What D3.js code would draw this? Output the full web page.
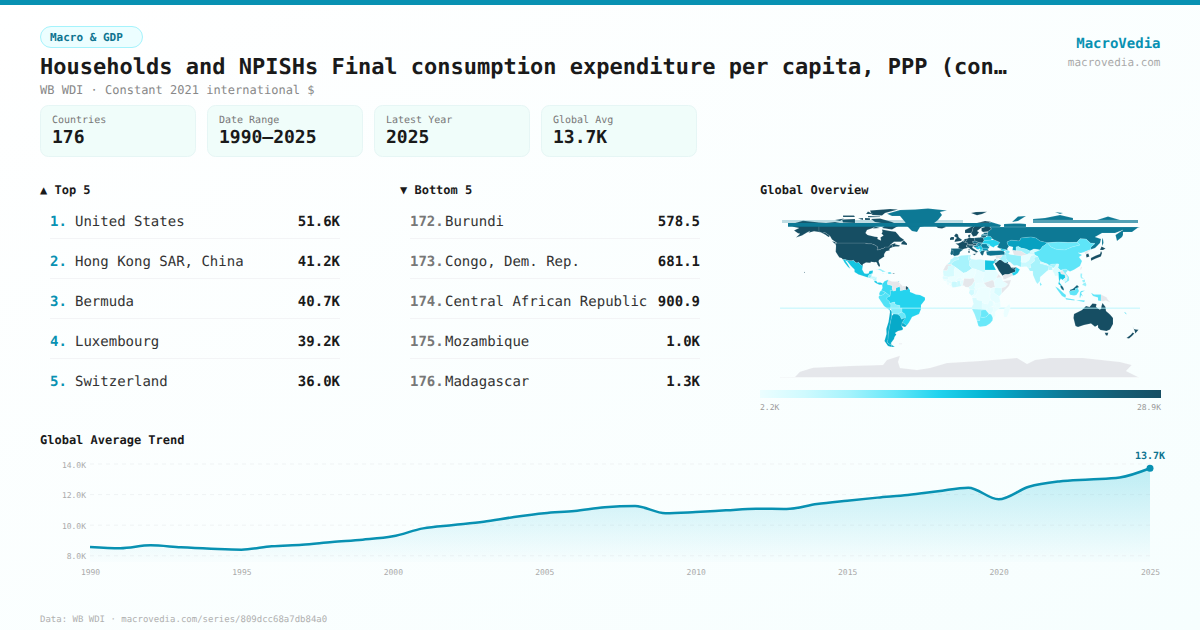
<!DOCTYPE html>
<html>
<head>
<meta charset="utf-8">
<script src="https://cdn.jsdelivr.net/npm/d3@7"></script>
<style>
  html, body { margin: 0; padding: 0; background: #fff; overflow: hidden; }
  text { font-family: "DejaVu Sans Mono", monospace; text-rendering: geometricPrecision; }
</style>
</head>
<body>
<div id="my_dataviz"></div>
<script>
// header + stat cards
var titleText = "Households and NPISHs Final consumption expenditure per capita, PPP (con…";
var subtitleText = "WB WDI · Constant 2021 international $";
var statLabels = ["Countries", "Date Range", "Latest Year", "Global Avg"];
var statValues = ["176", "1990–2025", "2025", "13.7K"];

// rankings
var topRanks = ["1.", "2.", "3.", "4.", "5."];
var topNames = ["United States", "Hong Kong SAR, China", "Bermuda", "Luxembourg", "Switzerland"];
var topValues = ["51.6K", "41.2K", "40.7K", "39.2K", "36.0K"];
var bottomRanks = ["172.", "173.", "174.", "175.", "176."];
var bottomNames = ["Burundi", "Congo, Dem. Rep.", "Central African Republic", "Mozambique", "Madagascar"];
var bottomValues = ["578.5", "681.1", "900.9", "1.0K", "1.3K"];

// trend series
var years = d3.range(1990, 2026);
var trendValues = [8540, 8460, 8650, 8520, 8430, 8370, 8590, 8690, 8870, 9020, 9240, 9760,
  9980, 10200, 10500, 10750, 10900, 11140, 11220, 10750, 10830, 10940, 11050, 11030, 11350,
  11570, 11770, 11940, 12180, 12420, 11660, 12480, 12830, 12960, 13090, 13690];
var trendTicks = [8000, 10000, 12000, 14000];
var yearTicks = [1990, 1995, 2000, 2005, 2010, 2015, 2020, 2025];

// map legend
var legendMin = 2200, legendMax = 28900;
var legendLabels = ["2.2K", "28.9K"];
var legendColors = ["#ecfeff", "#cffafe", "#a5f3fc", "#67e8f9", "#22d3ee", "#06b6d4", "#0891b2", "#0e7490", "#155e75", "#164e63"];

// map values, null = no data
var mapCountries = [
  "USA", "Canada", "Greenland", "Iceland", "Mexico", "Guatemala", "Belize", "Honduras", "Salvador", "Nicaragua",
  "CostaRica", "Panama", "Cuba", "Haiti", "Dominican", "Jamaica", "PuertoRico", "Trinidad", "Colombia", "Venezuela",
  "Guyana", "Suriname", "Ecuador", "Peru", "Brazil", "Bolivia", "Paraguay", "Chile", "Argentina", "Uruguay",
  "Falklands", "UK", "Ireland", "France", "Spain", "Portugal", "Belgium", "Netherlands", "Germany", "Switzerland",
  "Austria", "Italy", "Denmark", "Norway", "Sweden", "Finland", "Poland", "Czechia", "Slovakia", "Hungary",
  "Croatia", "Bosnia", "Serbia", "Romania", "Bulgaria", "Greece", "Albania", "Ukraine", "Moldova", "Belarus",
  "Lithuania", "Latvia", "Estonia", "Russia", "Kazakhstan", "Uzbekistan", "Turkmenistan", "Kyrgyzstan", "Tajikistan", "Mongolia",
  "China", "NorthKorea", "SouthKorea", "Japan", "Taiwan", "India", "Pakistan", "Afghanistan", "Nepal", "Bangladesh",
  "SriLanka", "Iran", "Iraq", "Saudi", "Yemen", "Oman", "UAE", "Kuwait", "Jordan", "Israel",
  "Syria", "Turkey", "Georgia", "Azerbaijan", "Myanmar", "Thailand", "Laos", "Cambodia", "Vietnam", "Malaysia",
  "Indonesia", "PNG", "Philippines", "NewCaledonia", "Australia", "NewZealand", "Fiji", "Morocco", "WesternSahara", "Algeria",
  "Tunisia", "Libya", "Egypt", "Sudan", "Mauritania", "Mali", "Niger", "Chad", "Senegal", "GuineaBissau",
  "Guinea", "SierraLeone", "Liberia", "Ivory", "Burkina", "Ghana", "Benin", "Nigeria", "Cameroon", "CAR",
  "SouthSudan", "Eritrea", "Ethiopia", "Somalia", "Kenya", "Uganda", "Tanzania", "Rwanda", "Gabon", "Congo",
  "DRC", "Angola", "Zambia", "Malawi", "Mozambique", "Zimbabwe", "Namibia", "Botswana", "SouthAfrica", "Madagascar",
  "Antarctica"
];
var mapValues = [
  51600, 31000, 22500, 30000, 15500, 9500, 8000, 6000, 9000, 6500,
  15000, 15000, 9000, 3000, 14000, 8000, 29000, 13000, 13000, null,
  null, null, 12500, 12000, 14000, 9500, 11000, 18000, 18000, 18000,
  null, 32000, 29000, 33000, 25000, 25000, 32000, 33000, 34000, 36000,
  34000, 28000, 31000, 35000, 32000, 30000, 27000, 24000, 22000, 21000,
  21000, 15000, 15000, 21500, 19500, 25000, 13000, 14000, 11000, 15500,
  26000, 23000, 24000, 22500, 18700, 8500, null, 4500, 5000, 11000,
  11500, null, 28900, 29000, null, 8000, 5500, 2800, 4200, 7000,
  10000, 9000, 8000, 28900, null, 14000, 29000, 24000, 8500, 27000,
  null, 23000, 14000, 9500, 4000, 15000, null, 5000, 9500, 25000,
  11500, null, 8800, 14000, 35000, 29000, 8500, 6800, null, 8000,
  7000, 5500, 15500, 3000, 4500, 2400, 2300, 2600, 3500, 2400,
  2600, 2400, 2300, 5500, 2700, 5300, 3000, null, 3800, 2300,
  null, null, 2700, null, 4500, 2600, 2800, 2500, 5000, 2800,
  2250, 4200, 3000, 2300, 2300, 3100, 9000, 11000, 11000, 2300,
  null
];

// rough outlines, lon lat pairs, rings split with |
var mapOutlines = {
  USA: "-124.7 48.4,-123 49,-95.2 49,-92 48.3,-88.4 48.3,-84.9 46.9,-83.5 46,-82.5 45.3,-82.1 43.6,-83 42,-79 42.8,-79 43.3,-76.8 43.6,-75 45,-71.5 45,-70.4 46,-69.2 47.4,-68 47.2,-67 44.9,-70 43.7,-70.8 42.6,-70 41.7,-74 40.7,-75.5 38.5,-76 37,-75.7 35.5,-78 33.9,-81 32,-81.4 30.5,-80 26.8,-80.4 25.2,-81.2 25.5,-82.7 27.8,-82.9 29.1,-84 30,-85.5 29.7,-89.2 30.2,-89.4 29.2,-91 29.2,-94 29.6,-97.2 27.7,-97.2 25.9,-99.5 27.5,-101.4 29.8,-103 29,-104.5 29.6,-106.5 31.8,-108.2 31.3,-111 31.3,-114.8 32.5,-117.1 32.5,-118.5 34,-120.6 34.5,-122 36.6,-124.3 40.3,-124 46.2|-141 69.6,-141 60.3,-137.5 58.9,-135 59.5,-130 55.9,-131.5 55,-135 57.5,-139.5 59.8,-146 60.8,-151.5 59.3,-150 61,-153 59.5,-158 56.6,-164 54.6,-160 58.2,-162 58.7,-166 61.6,-161 64,-168 65.6,-162 67,-166.5 68.4,-157 71.2,-150 70.4|-156 20.2,-154.9 19.6,-155.7 18.9",
  Canada: "-141 69.6,-141 60.3,-137.5 58.9,-135 59.5,-130 55.9,-128 52.5,-123 49,-95.2 49,-92 48.3,-88.4 48.3,-84.9 46.9,-83.5 46,-82.5 45.3,-82.1 43.6,-83 42,-79 42.8,-79 43.3,-76.8 43.6,-75 45,-71.5 45,-70.4 46,-69.2 47.4,-68 47.2,-67 44.9,-64.5 45.5,-61 45.5,-60 46.5,-65 47.8,-64.5 49,-70 47,-66 50.2,-59 50.2,-55.7 52,-60 55,-62 57.5,-64.5 60.3,-70 61,-78 62.4,-77.5 60,-78.5 58.5,-76.5 56.5,-79.5 54.5,-79 51.5,-82.5 52.9,-82.3 55.1,-85 55.3,-92.5 57,-94.5 59,-93 62,-87 64,-81 69,-90 69,-96 67.5,-108 68,-115 68,-125 70,-134 69|-125.5 48.6,-123.5 48.4,-125 50,-128 50.8|-59 47.7,-53 47,-53 48.5,-56 51.5,-58 50|-61 66.5,-68 62.5,-78 64,-73 68,-85 70,-89 73,-80 73.5,-68 70|-105 69,-117 69.5,-118 72.5,-105 73|-62 82.5,-70 83,-90 81.5,-88 77,-78 76.5,-75 79|-116 73.5,-125 72,-120 71|-80 75,-92 74.7,-92 76,-80 75.5|-92 80.5,-87 78,-94 78|-105 75,-117 75,-117 76.5,-106 76.5|-80 64,-87 63.5,-85 65.5|-97 72,-102 73.5,-97 74|-90 72,-95 72,-95 74,-90 73.8",
  Greenland: "-73 78.2,-60 82,-45 82.5,-32 83.6,-13 81.5,-20 80,-18 77,-22 72,-27 68,-40 65,-43 60,-48 61,-53 66,-55 70,-60 76,-68 76",
  Iceland: "-24 65.5,-22 64,-18 63.5,-14 65,-16 66.5,-22 66.4",
  Mexico: "-117.1 32.5,-114.8 32.5,-111 31.3,-108.2 31.3,-106.5 31.8,-104.5 29.6,-103 29,-101.4 29.8,-99.5 27.5,-97.2 25.9,-97.8 22.5,-95.8 18.8,-94 18.2,-91.5 18.5,-90.5 21,-87 21.5,-87.5 18.5,-89 17.9,-91 17.2,-92.2 14.5,-96 15.8,-101.5 17.5,-105.5 20,-105.5 22.5,-109 26,-112.8 30.8,-114.7 31.5,-112 27.5,-109.7 23.2,-112 25,-115.5 29.5",
  Guatemala: "-92.2 14.5,-91 17.2,-89.2 17.9,-88.3 15.8,-89.2 14.4,-90.5 13.9",
  Belize: "-89.2 17.9,-88.3 18.4,-88.2 16.3,-89.2 15.9",
  Honduras: "-89.2 14.4,-88.3 15.8,-83.2 15,-84.8 14,-87.3 13",
  Salvador: "-90 13.7,-88 13.2,-89.2 14.4",
  Nicaragua: "-87.5 13,-84.8 14,-83.2 15,-83.7 11,-85.7 11.1",
  CostaRica: "-85.7 11.1,-83.7 11,-82.6 9.5,-83 8.2,-85.7 10",
  Panama: "-83 8.2,-82.6 9.5,-79.5 9.6,-77.3 8.6,-77.9 7.2,-80.5 7.3",
  Cuba: "-85 21.9,-80 23.2,-74.2 20.2,-77.7 19.9,-78.5 21,-82 22.5",
  Haiti: "-74.5 18.4,-71.7 18.2,-71.7 19.8,-73 20",
  Dominican: "-71.7 18.2,-68.5 18.5,-69 19.5,-71.7 19.8",
  Jamaica: "-78.3 18.3,-76.3 18,-76.5 18.5",
  PuertoRico: "-67.2 18,-65.6 18,-65.6 18.5,-67.2 18.5",
  Trinidad: "-61.7 10,-60.9 10,-60.9 10.8,-61.7 10.8",
  Colombia: "-77.3 8.6,-75.5 10.7,-72 12.2,-71.3 11.8,-72.5 9.5,-72.4 7.4,-70 7,-67.5 6.2,-67.8 3.5,-67 1.2,-69.8 1.7,-69.5 -1,-70 -4.2,-72 -2.4,-75 -0.1,-78.8 1.4,-77.5 4,-77.9 7.2",
  Venezuela: "-72 12.2,-71.3 11.8,-68 10.6,-64 10.5,-62 10.7,-60 8.5,-60.7 6.8,-61.2 5,-60.7 5.2,-64 4,-64 1.5,-66.3 0.8,-67 1.2,-67.8 3.5,-67.5 6.2,-70 7,-72.4 7.4,-72.5 9.5",
  Guyana: "-60 8.5,-57.3 6,-56.5 1.9,-58 1.5,-60 1.2,-59.8 4,-61.2 5,-60.7 6.8",
  Suriname: "-57.3 6,-54 5.9,-54.2 3.8,-54 2.3,-56.5 1.9",
  Ecuador: "-78.8 1.4,-75 -0.1,-75.3 -1.6,-78.3 -3.4,-80.2 -3.5,-80.9 -2,-80 0.5",
  Peru: "-75 -0.1,-72 -2.4,-70 -4.2,-73 -5.5,-73.2 -7.3,-70.5 -9.5,-70.6 -11,-69 -12.5,-69.2 -16.2,-70.4 -18.3,-76 -14,-81.3 -6,-81.3 -4.5,-80.2 -3.5,-78.3 -3.4,-75.3 -1.6",
  Brazil: "-51.8 4.6,-52.5 2.3,-54 2.3,-56.5 1.9,-58 1.5,-60 1.2,-59.8 4,-60.7 5.2,-64 4,-64 1.5,-66.3 0.8,-67 1.2,-69.8 1.7,-69.5 -1,-70 -4.2,-73 -5.5,-73.2 -7.3,-70.5 -9.5,-70.6 -11,-69 -11,-65.3 -10,-65 -12.5,-60 -13.7,-60.2 -16.3,-58 -16.3,-58 -20,-55 -22.2,-54.6 -25.6,-57.6 -30.2,-53.4 -33.7,-51 -30.5,-48.5 -26,-48 -25,-41 -22,-39 -17,-39 -13,-35 -8,-35 -5.5,-40 -3,-44 -2.5,-48 -0.7,-50 0,-50 1.7",
  Bolivia: "-70.6 -11,-69 -11,-65.3 -10,-65 -12.5,-60 -13.7,-60.2 -16.3,-58 -16.3,-58 -20,-62.6 -22.2,-66.5 -22,-69 -21,-68.4 -19.5,-69.2 -16.2,-69 -12.5",
  Paraguay: "-58 -20,-55 -22.2,-54.6 -25.6,-58.6 -27.3,-60 -24,-62.6 -22.2",
  Chile: "-70.4 -18.3,-69.2 -18,-68.4 -19.5,-68.2 -24,-69.5 -30,-71 -38,-71.7 -42,-72 -48,-73 -50,-71 -52,-68.5 -52.5,-68.5 -55,-72 -54,-75.5 -49,-73.5 -42,-73.7 -37,-71.5 -30,-70 -20",
  Argentina: "-66.5 -22,-62.6 -22.2,-60 -24,-58.6 -27.3,-54.6 -25.6,-57.6 -30.2,-58.4 -34,-57 -36.5,-57.5 -38,-62 -39,-65 -41,-63.7 -42.5,-65.5 -45,-66 -47,-69 -51,-68.5 -52.5,-71 -52,-73 -50,-72 -48,-71.7 -42,-71 -38,-69.5 -30,-68.2 -24|-68.5 -52.7,-65.2 -54.8,-68.5 -55",
  Uruguay: "-57.6 -30.2,-53.4 -33.7,-55 -35,-58.4 -34",
  Falklands: "-61 -51.5,-58 -51.5,-58 -52.2,-61 -52.2",
  UK: "-5.5 50,1.4 51.2,1.7 52.7,0 53.5,-1.5 55,-2 57.5,-4 58.6,-6 56,-3 54,-4.5 53,-5 51.7",
  Ireland: "-10 52,-6.2 52.2,-6 53.5,-6 55,-8.5 55,-10 54",
  France: "-4.5 48.5,-1.5 48.7,1.5 50,2.5 51,4.2 50,5.8 49.5,8 49,7.5 47.5,6 46.3,7.5 44,3.3 43,3 42.5,-1.8 43.4,-1 46,-2.5 47.3|-54 5.9,-51.8 4.6,-52.5 2.3,-54 2.3,-54.2 3.8|8.6 43,9.5 43,9.4 41.4,8.8 41.4",
  Spain: "-9 43.5,-1.8 43.4,3.3 42.4,0 40,-0.5 38,-2 36.7,-5.5 36,-7.4 37.2,-7 38.5,-7 41.8,-8.8 42",
  Portugal: "-8.8 42,-7 41.8,-7 38.5,-7.4 37.2,-9 37,-9.5 38.7",
  Belgium: "2.5 51,4.2 51.4,6 50.8,5.8 49.5,4.2 50",
  Netherlands: "3.6 51.4,4.8 53,7 53.3,7 51.9,6 50.8,4.2 51.4",
  Germany: "7 53.3,8.7 54,8.7 55,11 54,14.2 53.9,15 51,12.2 50.2,13.8 48.7,13 47.5,7.5 47.5,8 49,5.8 49.5,6 50.8,7 51.9",
  Switzerland: "6 46.3,7.5 47.5,9.6 47.5,10.4 46.7,9 46,7 45.9",
  Austria: "9.6 47.5,13 47.5,13.8 48.7,17 48.7,16.2 46.8,13 46.6,10.4 46.7",
  Italy: "7.5 44,7 45.9,9 46,10.4 46.7,13 46.6,13.7 45.7,12.3 45.3,12.5 44,16 41.8,18.5 40,16.5 39.8,16 38,15.6 40,12.5 41.5,10.5 43,8.8 44.4|12.5 38,15.6 38.2,15 36.7|8.2 41,9.7 41,9.6 39,8.5 39",
  Denmark: "8.2 55,8.2 57,10.5 57.6,10 55",
  Norway: "5 59,5 62,13 66,17 69,25 71,31 70.2,29 69,25 69,20 69,15 66,13 64,12.5 61,11 59|11 79,16 80,27 80.3,22 78,17 76.7",
  Sweden: "11 59,12.5 61,13 64,15 66,20 69,24 66,21.5 64.5,17 61,19 59.8,16.5 56.3,13 55.4",
  Finland: "24 66,20 69,25 69,29 69,29 66,31.5 62.9,28 60.5,23 60,21.5 61,21.5 64,25 65",
  Poland: "14.2 53.9,19 54.4,23.5 54.3,24 51.5,22.6 49.1,19 49.4,15 51",
  Czechia: "12.2 50.2,15 51,18.8 49.6,17 48.7,13.8 48.7",
  Slovakia: "17 48.7,18.8 49.6,22.6 49.1,22 48.4,18 47.8",
  Hungary: "16.2 46.8,17 48,18 47.8,22 48.4,21 46.2,18.5 45.8",
  Croatia: "13.7 45.7,16.2 46.8,18.5 45.8,19 45,15.8 45,16 43.5,18.5 42.5,14 45",
  Bosnia: "15.8 45,19 45,19.2 43.5,18.5 42.5,16 43.5",
  Serbia: "18.5 45.8,21 46.2,22.5 44,22.5 42.3,20.6 42,19.2 43.5,19 45",
  Romania: "21 46.2,22 48,26.6 48.2,28.2 45.5,29.6 45.2,28.6 43.7,23 43.8,22.5 44",
  Bulgaria: "22.5 44,23 43.8,28.6 43.7,27.7 42,26.3 41.5,22.5 41.3,22.5 42.3",
  Greece: "20 39.6,21 41,22.5 41.3,26.3 41.5,24 40.2,23.5 38,22.8 36.5,21.5 37",
  Albania: "19.4 42,20.6 42,22.5 42.3,22.5 41.3,21 41,20 39.6,19.4 41",
  Ukraine: "22 48.4,24 51.5,31 52,34 52.3,40 49.6,38 47,35 46,33.5 44.5,30.6 46,29 47.8,26.6 48.2",
  Moldova: "26.6 48.2,29 47.8,30 46,28.2 45.5",
  Belarus: "23.5 54.3,24 51.5,31 52,32 53.5,30.8 55.5,28 56,26 55",
  Lithuania: "21 55.5,21 56.3,26 56.3,26 55,23.5 54.3",
  Latvia: "21 56.3,22 57.7,24.3 57.5,27.5 57.5,28 56,26 56.3",
  Estonia: "23.5 58.5,23.5 59.3,28 59.5,27.5 57.7,24.3 57.8",
  Russia: "28 60.5,31.5 62.9,30 65,180 65,178 64.5,172 60,163 60,163 57,162 55,157 51,155.5 57,163 62,155 59,142 59,135 55,141 53,140 49,135 44,130.7 42.5,131 45,135 48.5,130.7 48.8,126 53,120 53.3,117 49.7,108 49.5,98 50,87.5 49.2,80 51,76 54,71 55,61 54,59.5 51,51 51.8,47 50,48 47,49 46,47 43,48 41.8,45 42.5,40 43.5,37 45,38.5 46.5,38 47,40 49.6,34 52.3,32 53.5,30.8 55.5,28 56,27.5 57.7,28 59.5|29 65,30 65,40 65,41 67,31 70,29 69|44 65,44 66.5,44 68,54 68.5,60 68.5,66 68,66 65|73 73,85 74,100 77,113 74,113 72,73 72|137 72,148 75.5,160 72,160 72,137 72|142 46,143.5 49,142.8 54.3,142 52|52 70,58 71,66 76,58 75.5|95 80,103 79,100 78|20 54.9,22.7 54.9,22.7 54.3,20 54.3",
  Kazakhstan: "47 50,51 51.8,59.5 51,61 54,71 55,76 54,80 51,87.5 49.2,85 47,82.5 45.5,80 42,74 43,70 41,66 43,61 44,58.5 45.5,56 45,56 41.3,52.5 41.8,53 45,49 46,48 47",
  Uzbekistan: "56 45,58.5 45.5,61 44,66 43,70 41,71 40,67 37.3,64 39,61 41,56 41.3",
  Turkmenistan: "52.5 41.8,56 41.3,61 41,64 39,67 37.3,61 36,53.9 37",
  Kyrgyzstan: "70 41,74 43,80 42,74 39.5,71 40",
  Tajikistan: "71 40,74 39.5,75 37,71 37,67 37.3",
  Mongolia: "87.5 49.2,98 50,108 49.5,117 49.7,120 47,112 45,105 42,96 42.7,91 45",
  China: "74 39.5,80 42,82.5 45.5,85 47,87.5 49.2,91 45,96 42.7,105 42,112 45,120 47,117 49.7,120 53.3,126 53,130.7 48.8,135 48.5,131 45,130.7 42.5,124.3 40,121 39,118 39.2,122 37,119 35,122 31,120 26,114 22.3,110 20.5,108 21.6,106 22.8,102 22.3,101 21.5,98 24,98.7 28,92 27.8,89 26.8,88 27.8,81 30.2,79 32.5,77.8 35.5,75 37",
  NorthKorea: "124.3 40,130.7 42.5,129.7 41,127.5 39.5,128.3 38.5,125 37.8,125 38.5",
  SouthKorea: "126 37.6,128.3 38.5,129.4 35.5,126.5 34.4",
  Japan: "130.9 34,136 36.5,140 38,141 41,142 39,140.9 35.5,135.8 33.5,131 31.3|140 42,141.5 45.5,145.5 43.5,143 42",
  Taiwan: "120.2 23,121 25.2,122 25,121 22",
  India: "68.2 23.7,71 24.5,70 27.5,74.5 31,74 34.5,77.8 35.5,79 32.5,81 30.2,80 28.7,88 26.4,89 26.8,92 27.8,97 28.2,94 24,91.8 24.5,92 25.3,89 25.5,88.5 22,87 21,82 16.5,80.2 15,80 11,77.5 8,76 10,73 17,72.8 21,70 21",
  Pakistan: "61 25,61.5 29.5,60.8 29.8,66 29.7,69 32,71 36.5,74 37,77.8 35.5,74 34.5,74.5 31,70 27.5,71 24.5,68.2 23.7,66.5 25.4",
  Afghanistan: "61 36,61 31.5,60.8 29.8,66 29.7,69 32,71 36.5,74.5 37.3,71 38,67 37.3",
  Nepal: "80 28.7,81 30.2,88 27.8,88 26.4",
  Bangladesh: "88.5 26,92 25.3,92.5 22,89 22",
  SriLanka: "80 9.7,81.8 7.5,80.5 6,79.8 8",
  Iran: "44.5 39.7,48 39,48.8 38,50 37.4,53.9 37,61 36,61 31.5,60.8 29.8,61.5 29.5,61 25,57 26.7,54 26.6,50 30,48.5 30,46 33,46 35.8,44.5 37.3",
  Iraq: "38.8 33.4,41 34.4,42.5 37.2,44.5 37.3,46 35.8,46 33,48.5 30,46.5 29,44.7 29.2,41 32",
  Saudi: "34.9 29.4,36 29.2,39 32,41 32,44.7 29.2,46.5 29,48 28.5,50 26.5,51 24.5,55 22.7,55.7 22,55 20,52 19,48.2 17.5,45 17.4,43 16.7,42.8 16,39 21,37 24.7,34.9 28",
  Yemen: "42.8 16,43 16.7,45 17.4,48.2 17.5,52 19,53 16.6,45 12.7,43.5 12.7",
  Oman: "55 20,55.7 22,55 22.7,56.3 24.8,59.8 22.5,57.8 19,55 17,53 16.6,52 19",
  UAE: "51 24.5,55 22.7,56.3 24.8,54 24.2",
  Kuwait: "46.5 29,48 28.5,48 30,46.8 30",
  Jordan: "36 29.2,35 29.5,35.5 32.5,39 32,37 31",
  Israel: "34.3 31.3,35 29.5,35.5 33,35 33",
  Syria: "35.7 36,36.6 36.2,42.5 37.2,41 34.4,38.8 33.4,36 33,35.8 35",
  Turkey: "26.3 40,27 37,30.5 36.3,36 36.7,42.5 37.2,44.5 37.3,44.5 39.7,43.5 41,41.5 41.5,36 41.3,31 41.2,29 41|26.3 41.5,28 42,29 41,26.3 40.5",
  Georgia: "40 43.5,45 42.5,46.5 41.8,43.5 41,41.5 41.5",
  Azerbaijan: "45 41,46.5 41.8,48 41.8,50 40.3,48.8 38.5,46 39",
  Myanmar: "92.5 21,94 24,97 28.2,98.7 28,98 24,101 21.5,98.5 19,98.7 16,99 11,97.5 16.5,95 15.8,94.3 18.5",
  Thailand: "98 20,100.5 20.3,101 18,104.7 17.5,105.5 14.5,102.5 12,100.8 13.4,99.5 11,99.5 9.5,102 6.3,100.5 6.5,98.3 8,99 11,98.7 16,98.5 19",
  Laos: "100.5 20.3,102 22.3,104 19.5,107 16,107.5 14.5,105.5 14.5,104.7 17.5,101 18",
  Cambodia: "102.5 12,105.5 14.5,107.5 14.5,106.5 11,104 10.5",
  Vietnam: "102 22.3,106 22.8,108 21.6,105.7 19,109 15,109.2 11.5,105 8.7,104.8 10.2,106.5 11,107.5 14.5,107 16,104 19.5",
  Malaysia: "100.3 6.5,102 6.3,103.5 4,104 1.5,102 2.5,100.7 4.5|109.7 2,111 2.5,113 3.2,115.5 5.5,117 7,119 5,117.5 4.2,115.5 3.5,115 1.5,113 1.5,110.5 1",
  Indonesia: "109 1,110.5 1,113 1.5,115 1.5,115.5 3.5,117.5 4.2,119 1,116.5 -3,114 -3.5,110 -2.8|95.2 5.5,98 4,104 -1.5,106 -3,105.5 -5.8,102 -4,97.5 2|105.5 -6,108.5 -6.5,114.5 -7.5,114.5 -8.6,106 -7.5|119.5 -5.5,120 -0.5,121 1,125 1.5,121 -0.8,123 -4.5,121 -3,120.5 -5.5|131 -0.8,134 -2.5,141 -2.6,141 -9.1,138 -8.4,138 -5.5,133 -4|116 -8.3,122 -8.2,125 -8.4,124 -10,119 -9",
  PNG: "141 -2.6,145 -4.5,147.5 -6,147 -6.8,150.5 -10.5,146 -8.5,143 -9.2,141 -9.1",
  Philippines: "120.3 16,120.5 18.5,122.2 18.5,122 15,124 13,121 13.7|122 7,123.5 8.7,125.5 9.8,126.5 7,125.5 5.6,124 6.5|122 11.8,125 12.5,125 10,123 9.5",
  NewCaledonia: "164 -20,165 -20.4,166.8 -22.3,165.8 -21.9",
  Australia: "114 -22,113.5 -26,115.5 -34,118 -35,124 -33,131 -31.5,135 -34.7,138 -33,138 -35.5,140.5 -38,146.5 -39,150 -37.5,153 -32,153 -26,150 -22.5,146 -19,145.5 -15,142.5 -11,141.5 -14,141 -17,139.5 -17.5,136 -15,136.5 -12,132.5 -11.5,129.5 -15,126 -14,122 -18,117 -20.5|144.7 -40.8,148.3 -40.8,147.5 -43.5,146 -43.5",
  NewZealand: "172.7 -34.5,174 -37,176 -37.6,178.5 -37.7,177 -39.5,175.3 -41.6,174.7 -39|172.7 -40.5,174.3 -41.5,172 -44,169 -46.6,166.5 -46,170.5 -43",
  Fiji: "-180 -15.8,180 -15.8,180 -16.5,-180 -16.5",
  Morocco: "-5.9 35.8,-2.2 35.1,-1.2 32.5,-5 31.5,-8.7 28.7,-8.7 27.6,-13 27.7,-10 30,-9.5 32.5,-6.8 34",
  WesternSahara: "-13 27.7,-8.7 27.6,-8.7 26,-12 26,-12 23.4,-13 21.3,-17 21.4,-14.5 26",
  Algeria: "-2.2 35.1,1 36.5,9 37,8.5 33,9.8 30,9.5 26.5,12 23.5,6 19.5,3.3 19,-4.8 25,-8.7 27.6,-8.7 28.7,-5 31.5,-1.2 32.5",
  Tunisia: "9 37,11 37,10 34,11.5 33,9.5 30.5,8.5 33",
  Libya: "9.8 30,9.5 30.5,11.5 33,15.5 32.3,20 32.8,25 31.7,25 20,24 19.5,15 23,12 23.5,9.5 26.5",
  Egypt: "25 31.7,32 31.2,34.3 31.3,34.9 29.5,33 28,36 22,25 22",
  Sudan: "25 22,36 22,38.5 18,36.5 14,34 10,32.5 12,27 10,24 9,22 13,24 15.5,24 19.5,25 20",
  Mauritania: "-17 21.4,-13 21.3,-12 23.4,-12 26,-8.7 26,-8.7 27.6,-4.8 25,-6 21,-5.5 15.5,-12 15,-16.5 16",
  Mali: "-12 15,-5.5 15.5,-6 21,-4.8 25,3.3 19,4.2 15,1 15,-3 13.5,-5 10.5,-8 10.3,-11.5 12.4",
  Niger: "3.3 19,6 19.5,12 23.5,15 23,16 20,13.5 14,10 13.3,4 13.5,2.3 12,1 15,4.2 15",
  Chad: "15 23,24 19.5,24 15.5,22 13,24 9,19 9,15.5 7.5,14.5 11,13.5 14,16 20",
  Senegal: "-17.5 14.7,-16.5 16,-12 15,-11.5 12.4,-16.8 12.4",
  GuineaBissau: "-16.8 12.4,-13.7 12.4,-13.7 11,-16 11",
  Guinea: "-13.7 12.4,-11.5 12.4,-8 10.3,-8 8,-10.7 9,-13.3 9.5",
  SierraLeone: "-13.3 9.5,-10.7 9,-11 7,-13 7.5",
  Liberia: "-11 7,-8.5 7.5,-7.5 4.4",
  Ivory: "-8.5 7.5,-8 10.3,-5 10.5,-2.8 9.7,-3 5,-7.5 4.4",
  Burkina: "-5 10.5,-3 13.5,1 15,2.3 12,0 11,-2.8 11",
  Ghana: "-2.8 11,0 11,1.2 6,-3 5",
  Benin: "0 11,2.3 12,3.7 11.5,2.7 6.3,1.2 6",
  Nigeria: "2.7 6.3,3.7 11.5,4 13.5,10 13.3,13.5 14,14.5 11,12 7,8.5 4.7,5.5 5,4 6.4",
  Cameroon: "8.5 4.7,12 7,14.5 11,13.5 14,15.5 7.5,14.5 4.5,16 2,9.8 2.3",
  CAR: "15.5 7.5,19 9,24 9,27 5,19 3.7,16 2,14.5 4.5",
  SouthSudan: "24 9,27 10,32.5 12,34 10,35 5,31 3.7,27 5",
  Eritrea: "36.5 14,38.5 18,43 12.5,41 14.5",
  Ethiopia: "34 10,36.5 14,41 14.5,43 11,48 8,45 5,41.5 4,36 4.5,35 5",
  Somalia: "43 11,51 12,49 6,41.5 -1.7,41.5 4,45 5,48 8",
  Kenya: "34 4,36 4.5,41.5 4,41.5 -1.7,39.2 -4.6,34 -1",
  Uganda: "31 3.7,35 5,34 -1,29.6 -1.3,30 1",
  Tanzania: "30.5 -1,34 -1,39.2 -4.6,40.4 -10.5,35 -11.5,34 -9.5,30.7 -8.2,29.5 -4.5",
  Rwanda: "29 -1.3,30.5 -1,30.5 -4.5,29.5 -4.5",
  Gabon: "9.8 2.3,14 2.2,14.3 -2,11.5 -3.7,8.8 -1",
  Congo: "11.5 -4.5,14.3 -2,14 2.2,16 2,19 3.7,16 -3,12.5 -5",
  DRC: "12.2 -6,13 -5,16 -3,19 3.7,27 5,31 3.7,30 1,29.6 -1.3,29.5 -4.5,30.7 -8.2,28.7 -9,28 -12.3,22 -11,22 -9,17 -8,16.5 -6",
  Angola: "12.2 -6,16.5 -6,17 -8,22 -9,22 -11,24 -11,22 -13,22 -16.5,23.4 -17.5,12 -17,11.8 -15,13.5 -12",
  Zambia: "22 -11,28 -12.3,28.7 -9,30.7 -8.2,33 -9.5,33 -14,30 -15.5,25.5 -17.8,23.4 -17.5,22 -16.5,22 -13",
  Malawi: "33 -9.5,34.5 -11.5,35.5 -14.5,35 -17,33 -14",
  Mozambique: "34.5 -11.5,40.4 -10.5,40.7 -15,35 -20,35.5 -24,32.8 -26,32 -24,31 -22.3,33 -19,33 -15,35 -17,35.5 -14.5",
  Zimbabwe: "25.5 -17.8,30 -15.5,33 -15,33 -19,31 -22.3,29 -22",
  Namibia: "12 -17,23.4 -17.5,25.5 -17.8,21 -18.3,21 -22,20 -28.4,17 -28.9,14.5 -22",
  Botswana: "21 -18.3,25.5 -17.8,29 -22,26 -25,23 -25.5,20 -25,21 -22",
  SouthAfrica: "17 -28.9,20 -28.4,20 -25,23 -25.5,26 -25,29 -22,31 -22.3,32 -24,32.8 -26,32.5 -28.5,30 -31.5,26 -34,20 -34.8,18.4 -34",
  Madagascar: "49.3 -12,50.5 -15.5,47 -25,44 -25,43.5 -21.5,44.5 -16.5",
  Antarctica: "-180 -85,-165 -85,-160 -79.7,-147 -75.7,-110 -74,-77 -73,-73 -68,-60 -63.7,-62 -70,-60 -76,-43 -78,-30 -76,-13 -71,20 -69,57 -66,67 -72,75 -68,90 -66,123 -66,160 -70,171.7 -73,166 -79,178 -85,180 -85.3,-180 -85.3"
};

// long stray bands that cross the whole map in the reference
var seamLight = "-178 69,3 69,3 72,-178 72";
var seamDark = "-172 65.3,30 65.3,30 69,-172 69";
var seamEast = "73 69,178 69,178 72,73 72";

// set the dimensions of the page
var width = 1200, height = 630;

var svg = d3.select("#my_dataviz")
  .append("svg")
    .attr("width", width)
    .attr("height", height)
    .style("display", "block");

var defs = svg.append("defs");

// page background
var bg = defs.append("linearGradient").attr("id", "pageBg")
  .attr("x1", "0").attr("y1", "0").attr("x2", "1").attr("y2", "1");
bg.append("stop").attr("offset", "0%").attr("stop-color", "#ffffff");
bg.append("stop").attr("offset", "100%").attr("stop-color", "#f6fefe");
svg.append("rect").attr("width", width).attr("height", height).attr("fill", "url(#pageBg)");
svg.append("rect").attr("width", width).attr("height", 5).attr("fill", "#0891b2");

function label(x, y, txt, size, color, weight, anchor) {
  return svg.append("text")
    .attr("x", x).attr("y", y)
    .attr("font-size", size)
    .attr("fill", color)
    .attr("font-weight", weight || "normal")
    .attr("text-anchor", anchor || "start")
    .text(txt);
}

// header
svg.append("rect").attr("x", 40.5).attr("y", 26.5).attr("width", 102).attr("height", 21).attr("rx", 10.5)
  .attr("fill", "#ecfeff").attr("stroke", "#a5f3fc");
label(50, 41, "Macro & GDP", 11, "#0e7490", "bold");
label(40, 74, titleText, 22, "#1a1a1a", "bold");
label(40, 94, subtitleText, 12, "#888888");
label(1160.5, 48, "MacroVedia", 14, "#0891b2", "bold", "end");
label(1160.5, 66, "macrovedia.com", 11, "#aaaaaa", "normal", "end");

// stat cards
statLabels.forEach(function(d, i) {
  var x = 40 + i * 167;
  svg.append("rect").attr("x", x + 0.5).attr("y", 105.5).attr("width", 155).attr("height", 51).attr("rx", 8)
    .attr("fill", "#f0fdfa").attr("stroke", "#e6f6f5");
  label(x + 12, 123, d, 10, "#777777");
  label(x + 12, 143, statValues[i], 18, "#1a1a1a", "bold");
});

// top and bottom lists
function rankList(x0, nameX, x1, heading, ranks, names, vals, rankColor) {
  label(x0 - 10, 194, heading, 12, "#1a1a1a", "bold");
  names.forEach(function(d, i) {
    var y = 226 + i * 40;
    label(x0, y, ranks[i], 14, rankColor, "bold");
    label(nameX, y, d, 14, "#333333");
    label(x1, y, vals[i], 14, "#1a1a1a", "bold", "end");
    if (i < names.length - 1) {
      svg.append("line").attr("x1", x0).attr("x2", x1).attr("y1", y + 12.5).attr("y2", y + 12.5)
        .attr("stroke", "#f3f4f6");
    }
  });
}
rankList(50, 75, 340, "▲ Top 5", topRanks, topNames, topValues, "#0891b2");
rankList(410, 445, 700, "▼ Bottom 5", bottomRanks, bottomNames, bottomValues, "#777777");

// map
label(760, 194, "Global Overview", 12, "#1a1a1a", "bold");

var mapColor = d3.scaleLinear()
  .domain(legendColors.map(function(d, i) { return legendMin + i * (legendMax - legendMin) / (legendColors.length - 1); }))
  .range(legendColors)
  .clamp(true);

// 1 px per degree, no sphere so the stray bands stay flat
var projection = d3.geoIdentity().reflectY(true).translate([960, 292]);
var geoPath = d3.geoPath(projection);

function toGeometry(outline) {
  return {
    type: "MultiPolygon",
    coordinates: outline.split("|").map(function(ring) {
      var pts = ring.split(",").map(function(p) { return p.split(" ").map(Number); });
      pts.push(pts[0]);
      return [pts];
    })
  };
}

svg.append("g").selectAll("path")
  .data(mapCountries)
  .enter()
  .append("path")
    .attr("d", function(d) { return geoPath(toGeometry(mapOutlines[d])); })
    .attr("fill", function(d, i) { return mapValues[i] === null ? "#e5e7eb" : mapColor(mapValues[i]); })
    .attr("stroke", "#ffffff")
    .attr("stroke-opacity", 0.4)
    .attr("stroke-width", 0.3);

var russiaColor = mapColor(mapValues[mapCountries.indexOf("Russia")]);
svg.append("path").attr("d", geoPath(toGeometry(seamLight))).attr("fill", russiaColor).attr("fill-opacity", 0.25);
svg.append("path").attr("d", geoPath(toGeometry(seamEast))).attr("fill", russiaColor).attr("fill-opacity", 0.7);
svg.append("path").attr("d", geoPath(toGeometry(seamDark))).attr("fill", russiaColor);

// legend bar
var lg = defs.append("linearGradient").attr("id", "mapLegend");
legendColors.forEach(function(c, i) {
  lg.append("stop").attr("offset", (i * 100 / (legendColors.length - 1)) + "%").attr("stop-color", c);
});
svg.append("rect").attr("x", 760).attr("y", 390).attr("width", 401).attr("height", 8).attr("fill", "url(#mapLegend)");
label(760, 410, legendLabels[0], 8, "#999999");
label(1161, 410, legendLabels[1], 8, "#999999", "normal", "end");

// trend chart
label(40, 444, "Global Average Trend", 12, "#1a1a1a", "bold");

var x = d3.scaleLinear().domain([1990, 2025]).range([90, 1150]);
var y = d3.scaleLinear().domain([8000, 14000]).range([555.3, 463.5]);
var trendBase = 562;

var ag = defs.append("linearGradient").attr("id", "trendFill").attr("x1", 0).attr("y1", 0).attr("x2", 0).attr("y2", 1);
ag.append("stop").attr("offset", "0%").attr("stop-color", "#06b6d4").attr("stop-opacity", 0.24);
ag.append("stop").attr("offset", "100%").attr("stop-color", "#06b6d4").attr("stop-opacity", 0.01);

// y axis with grid
var yAxis = d3.axisLeft(y)
  .tickValues(trendTicks)
  .tickSize(-(x.range()[1] - x.range()[0]))
  .tickPadding(4)
  .tickFormat(function(d) { return (d / 1000).toFixed(1) + "K"; });
var yG = svg.append("g").attr("transform", "translate(90,0)").call(yAxis);
yG.select(".domain").remove();
yG.selectAll("line").attr("stroke", "#eff3f4").attr("stroke-dasharray", "4,4");
yG.selectAll("text").attr("font-size", 8).attr("fill", "#aaaaaa").attr("dy", "0.45em")
  .style("font-family", '"DejaVu Sans Mono", monospace');

// x axis, labels only
var xAxis = d3.axisBottom(x)
  .tickValues(yearTicks)
  .tickSize(0)
  .tickPadding(7)
  .tickFormat(d3.format("d"));
var xG = svg.append("g").attr("transform", "translate(0,562)").call(xAxis);
xG.select(".domain").remove();
xG.selectAll("text").attr("font-size", 8).attr("fill", "#aaaaaa").style("font-family", '"DejaVu Sans Mono", monospace');

var trendArea = d3.area()
  .x(function(d, i) { return x(years[i]); })
  .y0(trendBase)
  .y1(function(d) { return y(d); })
  .curve(d3.curveMonotoneX);
var trendLine = d3.line()
  .x(function(d, i) { return x(years[i]); })
  .y(function(d) { return y(d); })
  .curve(d3.curveMonotoneX);

svg.append("path").datum(trendValues).attr("d", trendArea).attr("fill", "url(#trendFill)");
svg.append("path").datum(trendValues).attr("d", trendLine)
  .attr("fill", "none").attr("stroke", "#0891b2").attr("stroke-width", 2.5);

var lastValue = trendValues[trendValues.length - 1];
svg.append("circle").attr("cx", x(2025)).attr("cy", y(lastValue)).attr("r", 3.5).attr("fill", "#0891b2");
label(x(2025), y(lastValue) - 9, statValues[3], 10, "#0e7490", "bold", "middle");

// footer
label(40, 622, "Data: WB WDI · macrovedia.com/series/809dcc68a7db84a0", 9, "#b0b0b0");
</script>
</body>
</html>
